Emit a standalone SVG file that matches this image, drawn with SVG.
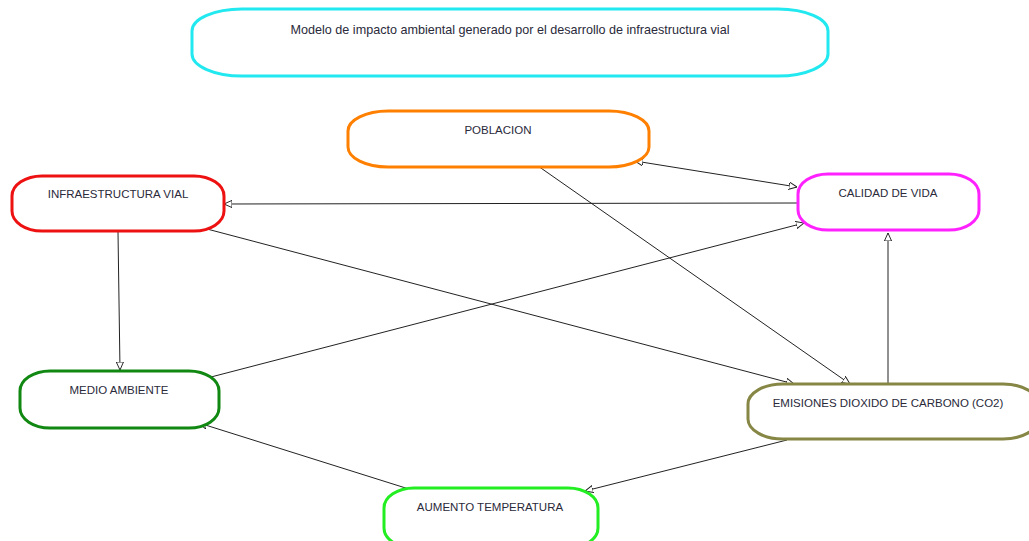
<svg xmlns="http://www.w3.org/2000/svg" width="1029" height="541" viewBox="0 0 1029 541">
<style>
.n{fill:#fff;stroke-width:3}
.t{font-family:"Liberation Sans",Arial,sans-serif;font-size:11.5px;fill:#2a2a3a;text-anchor:middle}
.c line{stroke:#222;stroke-width:1}
</style>
<defs>
<marker id="a" viewBox="0 0 10 10" refX="10" refY="5" markerWidth="8" markerHeight="8" markerUnits="userSpaceOnUse" orient="auto-start-reverse">
<path d="M0,0.5 L10,5 L0,9.5 Z" fill="#fff" stroke="#222" stroke-width="1.2"/>
</marker>
</defs>
<rect width="1029" height="541" fill="#fff"/>
<g class="c">
<line x1="635" y1="161" x2="797" y2="187" marker-start="url(#a)" marker-end="url(#a)"/>
<line x1="797" y1="203" x2="224" y2="204" marker-end="url(#a)"/>
<line x1="118" y1="232" x2="120" y2="370" marker-end="url(#a)"/>
<line x1="207" y1="229" x2="794" y2="384" marker-end="url(#a)"/>
<line x1="538" y1="166" x2="850" y2="384" marker-end="url(#a)"/>
<line x1="211" y1="377" x2="804" y2="223" marker-end="url(#a)"/>
<line x1="888" y1="383" x2="888" y2="233" marker-end="url(#a)"/>
<line x1="787" y1="440" x2="585" y2="491" marker-end="url(#a)"/>
<line x1="412" y1="490" x2="199" y2="423" marker-end="url(#a)"/>
</g>
<g id="title"><rect class="n" x="192" y="9" width="636" height="67" rx="50" ry="22" stroke="#22e8f0"/><text class="t" x="510" y="34" style="font-size:12.6px">Modelo de impacto ambiental generado por el desarrollo de infraestructura vial</text></g>
<g id="poblacion"><rect class="n" x="348" y="111" width="301" height="56" rx="40" ry="20" stroke="#ff8000"/><text class="t" x="498" y="134">POBLACION</text></g>
<g id="infraestructura"><rect class="n" x="12" y="176" width="212" height="55" rx="30" ry="20" stroke="#ee1111"/><text class="t" x="118" y="198">INFRAESTRUCTURA VIAL</text></g>
<g id="calidad"><rect class="n" x="798" y="174" width="181" height="56" rx="30" ry="20" stroke="#ff22ff"/><text class="t" x="888" y="197">CALIDAD DE VIDA</text></g>
<g id="medio"><rect class="n" x="20" y="371" width="199" height="57" rx="30" ry="20" stroke="#118811"/><text class="t" x="119" y="394">MEDIO AMBIENTE</text></g>
<g id="emisiones"><rect class="n" x="748" y="384" width="290" height="55" rx="35" ry="20" stroke="#868645"/><text class="t" x="888" y="407">EMISIONES DIOXIDO DE CARBONO (CO2)</text></g>
<g id="aumento"><rect class="n" x="384" y="488" width="214" height="60" rx="30" ry="20" stroke="#22ee22"/><text class="t" x="490" y="511">AUMENTO TEMPERATURA</text></g>
</svg>
